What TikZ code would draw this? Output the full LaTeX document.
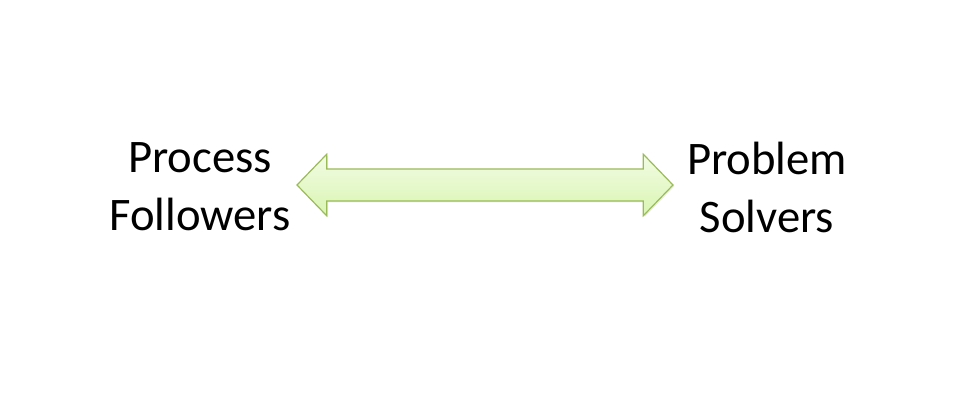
\documentclass[tikz,border=0pt]{standalone}
\usepackage{fontspec}
\setmainfont{Carlito}
\usetikzlibrary{shapes.arrows,shadows}
\definecolor{arrowline}{HTML}{9BBB59}
\definecolor{arrowtop}{HTML}{F2FCE4}
\definecolor{arrowbot}{HTML}{D9F5B2}
\begin{document}
\begin{tikzpicture}[x=0.75pt,y=-0.75pt]

    \tikzset{
        label/.style={align=center, inner sep=0pt,
            font=\fontsize{35}{43.5}\selectfont},
        bigarrow/.style={double arrow, draw=arrowline, line width=0.9pt,
            top color=arrowtop, bottom color=arrowbot,
            minimum height=282pt, minimum width=45pt,
            double arrow head extend=11pt, double arrow tip angle=92,
            inner xsep=0pt, inner ysep=11.6pt,
            drop shadow={opacity=0.15, shadow xshift=1pt, shadow yshift=-1pt}}
    }

    \useasboundingbox (0,0) rectangle (960,400);

    \node[label] (followers) at (200,187) {Process\\Followers};
    \node[label] (solvers) at (767,187) {Problem\\Solvers};

    \node[bigarrow] (link) at (485,185) {};

\end{tikzpicture}
\end{document}
